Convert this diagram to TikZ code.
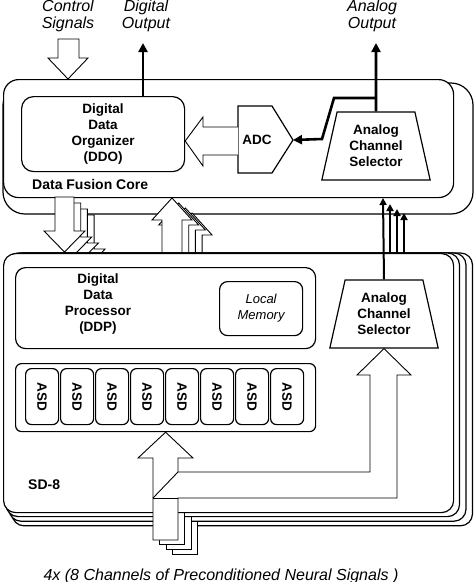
\documentclass[tikz,border=0pt]{standalone}
\usepackage{fontspec}
\setmainfont{Liberation Sans}
\usetikzlibrary{shapes.geometric,arrows.meta}
\begin{document}
\begin{tikzpicture}[x=1pt,y=-1pt,
  box/.style={draw, line width=1.2pt, fill=white},
  lbl/.style={font=\fontsize{13.5}{16}\selectfont\bfseries, align=center},
  outl/.style={font=\fontsize{16}{17}\selectfont\itshape, align=center, inner sep=0pt},
  harrow/.style={draw, line width=0.9pt, fill=white, line join=miter},
  thk/.style={line width=2.6pt, -{Triangle[length=9pt,width=9pt]}},
  thn/.style={line width=2pt, -{Triangle[length=7pt,width=7pt]}},
  trap/.style={draw, line width=1.2pt, fill=white, trapezium, trapezium stretches=true,
     trapezium angle=76, minimum width=109pt, minimum height=68pt, inner sep=0pt},
]
\path[use as bounding box, fill=white] (0,0) rectangle (474,582);

% ---------- outer labels ----------
\node[outl, anchor=north] (ctrl) at (68,0) {Control\\Signals};
\node[outl, anchor=north] (dig) at (146,0) {Digital\\Output};
\node[outl, anchor=north] (ana) at (372,0) {Analog\\Output};
\node[outl, anchor=base] (insig) at (221,580) {4x (8 Channels of Preconditioned Neural Signals )};

% ---------- Data Fusion Core ----------
\draw[box, rounded corners=22pt] (3,83) rectangle (473,214);
\node[box, rounded corners=15pt, minimum width=450pt, minimum height=118pt, anchor=north west, inner sep=0pt] (dfc) at (3,79) {};

% control signals hollow arrow
\filldraw[harrow] (58,39) -- (79,39) -- (79,58) -- (88,58) -- (dfc.north -| 68,0) -- (48,58) -- (58,58) -- cycle;

\node[box, rounded corners=12pt, minimum width=163pt, minimum height=75pt, anchor=north west, inner sep=0pt, lbl] (ddo) at (21,96) {Digital\\Data\\Organizer\\(DDO)};
\node[font=\fontsize{14}{16}\selectfont\bfseries, anchor=west, inner sep=0pt] (dfcl) at (32,184) {Data Fusion Core};

% ADC
\draw[box] (238,106) -- (272,106) -- (293,140) -- (272,173) -- (238,173) -- cycle;
\node[lbl] (adc) at (257,140) {ADC};
\coordinate (adctip) at (293,140);

% hollow arrow ADC -> DDO
\filldraw[harrow] (238,127) -- (203,127) -- (203,117) -- (ddo.east |- 0,141) -- (203,166) -- (203,155) -- (238,155);

% upper analog channel selector
\node[trap, lbl] (acs1) at (376,146) {Analog\\Channel\\Selector};

\coordinate (dout) at (143,43);
\coordinate (aout) at (376,43);
\coordinate (j1) at (376,98);
\draw[thk] (ddo.north -| dout) -- (dout);
\draw[thk] (acs1.north) -- (aout);
\draw[thk] (j1) -- (334,98) -- (322,139) -- (adctip);

% ---------- hollow arrows between the two blocks ----------
\foreach \k in {3,2,1,0}{
  \filldraw[harrow, shift={(\k*6.7,\k*6)}] (55,197) -- (74,197) -- (74,231) -- (85,231) -- (64.5,252) -- (44,231) -- (55,231) -- cycle;
}
\foreach \k in {3,2,1,0}{
  \filldraw[harrow, shift={(\k*6.7,\k*5)}] (162,253) -- (162,220) -- (152,220) -- (172,198) -- (192,220) -- (182,220) -- (182,253);
}

% ---------- SD-8 stack ----------
\foreach \k in {3,2,1}{
  \draw[box, rounded corners=12pt] (3+3*\k,253) rectangle (453+6.5*\k,512+4.6*\k);
  \filldraw[harrow] (153+6.5*\k,480) rectangle (178+6.5*\k,540+4.7*\k);
}
\node[box, rounded corners=12pt, minimum width=450pt, minimum height=259pt, anchor=north west, inner sep=0pt] (sd) at (3,253) {};

\node[box, rounded corners=10pt, minimum width=300pt, minimum height=81pt, anchor=north west, inner sep=0pt] (ddp) at (15,267) {};
\node[lbl] (ddpl) at (98,304) {Digital\\Data\\Processor\\(DDP)};
\node[box, rounded corners=8pt, minimum width=83pt, minimum height=54pt, anchor=north west, inner sep=0pt,
      font=\fontsize{13}{16}\selectfont\itshape, align=center] (lm) at (219,281) {Local\\Memory};

\node[box, rounded corners=6pt, minimum width=300pt, minimum height=68pt, anchor=north west, inner sep=0pt] (asdc) at (15,363) {};
\foreach \i in {0,...,7}{
  \node[box, rounded corners=6pt, minimum width=33pt, minimum height=56pt, anchor=north west, inner sep=0pt] (asd\i) at (25+35*\i,368) {};
  \node[lbl, rotate=-90] at (asd\i) {ASD};
}

\node[trap, lbl] (acs2) at (384,314) {Analog\\Channel\\Selector};

\node[font=\fontsize{14}{16}\selectfont\bfseries, anchor=west, inner sep=0pt] (sdl) at (28,485) {SD-8};

% input hollow arrow (front layer)
\filldraw[harrow] (153,540) -- (153,458) -- (138,458) -- (asdc.south) -- (193,458) -- (178,458) -- (178,472)
  -- (370,472) -- (370,375) -- (357,375) -- (acs2.south) -- (411,375) -- (397,375) -- (397,498)
  -- (178,498) -- (178,540) -- cycle;
\draw[line width=0.9pt] (153,498) -- (178,498);
\draw[line width=0.9pt] (178,472) -- (153,498);

% analog signals from lower selectors to data fusion core
\draw[thn] (acs2.north) -- (383,198);
\coordinate (s2) at (390,253);
\coordinate (s3) at (397,253);
\coordinate (s4) at (404,253);
\draw[thn] (s2) -- (390,204);
\draw[thn] (s3) -- (397,209);
\draw[thn] (s4) -- (404,213);
\end{tikzpicture}
\end{document}
